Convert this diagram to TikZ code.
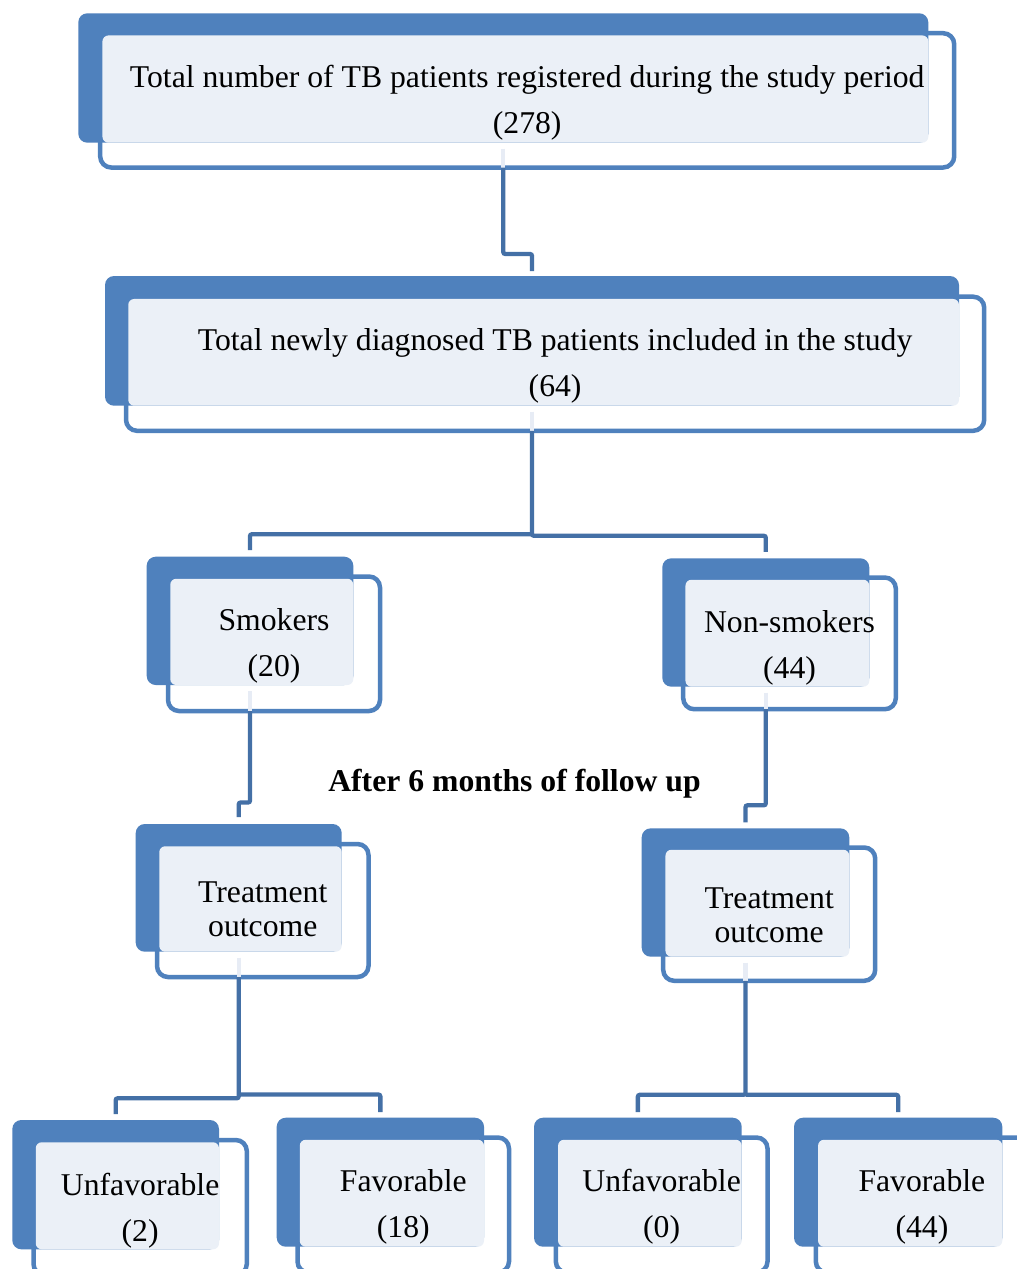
\documentclass[tikz,border=0pt]{standalone}
\usepackage{fontspec}
\setmainfont{Liberation Serif}
\usetikzlibrary{calc}
\definecolor{boxblue}{HTML}{4F81BD}
\definecolor{connblue}{HTML}{4470A6}
\definecolor{lightfill}{HTML}{EBF0F7}
\definecolor{stubcol}{HTML}{E7ECF5}
\newcommand\boxfont{\fontsize{31.7}{46}\selectfont}
\newcommand\tightfont{\fontsize{31.7}{34}\selectfont}
\tikzset{
  outl/.style={draw=boxblue, line width=4.5pt, fill=white, rounded corners=11pt, inner sep=0pt, outer sep=0pt},
  blu/.style={fill=boxblue, rounded corners=9pt, inner sep=0pt, outer sep=0pt},
  lite/.style={fill=lightfill, rounded corners=6pt},
  conn/.style={draw=connblue, line width=4.3pt, rounded corners=2pt},
  stub/.style={draw=stubcol, line width=4.3pt},
  txt/.style={inner sep=0pt, outer sep=0pt, anchor=base, font=\boxfont},
  ttxt/.style={inner sep=0pt, outer sep=0pt, anchor=base, font=\tightfont},
}
% #1 name, #2-#5 blue box x1 y1 x2 y2, #6-#9 outline box x1 y1 x2 y2
\newcommand\mkbox[9]{%
  \node[outl, minimum width={#8pt-#6pt}, minimum height={#9pt-#7pt}] (o#1) at ({(#6+#8)/2},{(#7+#9)/2}) {};
  \node[blu, minimum width={#4pt-#2pt}, minimum height={#5pt-#3pt}] (b#1) at ({(#2+#4)/2},{(#3+#5)/2}) {};
  \fill[lite] ([shift={(2.25pt,-2.25pt)}]o#1.north west) rectangle (b#1.south east);
}
\newcommand\twolines[2]{\begin{tabular}[t]{@{}c@{}}#1\\#2\end{tabular}}
\begin{document}
\begin{tikzpicture}[x=1pt,y=-1pt]
\useasboundingbox (0,0) rectangle (1017,1269);
\clip (0,0) rectangle (1017,1269);
\fill[white] (0,0) rectangle (1017,1269);

% boxes
\mkbox{1}{78.3}{13.3}{928.3}{142.7}{100.2}{33.2}{954.2}{167.5}
\mkbox{2}{105}{276}{959}{405.7}{126}{296.7}{984.2}{430.8}
\mkbox{3}{146.7}{556.7}{353.3}{685}{168}{576.5}{380}{711}
\mkbox{4}{662.3}{558.3}{869.3}{686.7}{683.2}{577.5}{895.8}{709.2}
\mkbox{5}{135.7}{824}{341.7}{951.7}{157}{844}{368.5}{977}
\mkbox{6}{641.7}{828.3}{849.3}{956.7}{663.2}{847.5}{875.2}{980.8}
\mkbox{7}{12.3}{1120}{219}{1249.3}{33.5}{1140}{246.8}{1275}
\mkbox{8}{276.7}{1117.7}{484}{1246.7}{297.5}{1137.5}{509}{1272.5}
\mkbox{9}{534}{1117.7}{741.7}{1246.7}{555.8}{1137.5}{767.5}{1272.5}
\mkbox{10}{794}{1117.7}{1002.3}{1246.7}{815.8}{1137.5}{1028}{1272.5}

% texts
\node[txt] (t1) at (o1.center |- 0,87.5) {\twolines{Total number of TB patients registered during the study period}{(278)}};
\node[txt] (t2) at (o2.center |- 0,350.7) {\twolines{Total newly diagnosed TB patients included in the study}{(64)}};
\node[txt] (t3) at (o3.center |- 0,630.7) {\twolines{Smokers}{(20)}};
\node[txt] (t4) at (o4.center |- 0,632.7) {\twolines{Non-smokers}{(44)}};
\node[ttxt] (t5) at (o5.center |- 0,902.7) {\twolines{Treatment}{outcome}};
\node[ttxt] (t6) at (o6.center |- 0,908.3) {\twolines{Treatment}{outcome}};
\node[txt] (t7) at (o7.center |- 0,1195) {\twolines{Unfavorable}{(2)}};
\node[txt] (t8) at (o8.center |- 0,1191.7) {\twolines{Favorable}{(18)}};
\node[txt] (t9) at (o9.center |- 0,1191.7) {\twolines{Unfavorable}{(0)}};
\node[txt] (t10) at (o10.center |- 0,1191.7) {\twolines{Favorable}{(44)}};
\node[inner sep=0pt, anchor=base, font={\fontsize{31.7}{38}\selectfont\bfseries}] (fu) at (514.5,791) {After 6 months of follow up};

% elbow levels
\coordinate (e1) at (0,254);
\coordinate (e2a) at (0,534.2);
\coordinate (e2b) at (0,535.8);
\coordinate (e3) at (0,802.5);
\coordinate (e4) at (0,805.3);
\coordinate (e5a) at (0,1098.3);
\coordinate (e5b) at (0,1094.5);
\coordinate (e6) at (0,1094.8);

% light stubs inside the outline boxes
\foreach \i in {1,...,6}{
  \draw[stub] ([yshift=-6pt]b\i.south) -- (b\i.south |- o\i.south);
}

% connectors
\draw[conn] (b1.south |- o1.south) -- (b1.south |- e1) -- (b2.north |- e1) -- ([yshift=5pt]b2.north);
\draw[conn] (b2.south |- o2.south) -- (b2.south |- e2b) -- (b4.north |- e2b) -- ([yshift=6.5pt]b4.north);
\draw[conn] (b2.south |- e2a) -- (b3.north |- e2a) -- ([yshift=6.5pt]b3.north);
\draw[conn] (b3.south |- o3.south) -- (b3.south |- e3) -- (b5.north |- e3) -- ([yshift=7pt]b5.north);
\draw[conn] (b4.south |- o4.south) -- (b4.south |- e4) -- (b6.north |- e4) -- ([yshift=6pt]b6.north);
\draw[conn] (b5.south |- o5.south) -- (b5.south |- e5a) -- (b7.north |- e5a) -- ([yshift=6pt]b7.north);
\draw[conn] (b5.south |- e5b) -- (b8.north |- e5b) -- ([yshift=5.5pt]b8.north);
\draw[conn] (b6.south |- o6.south) -- (b6.south |- e6) -- (b9.north |- e6) -- ([yshift=5.5pt]b9.north);
\draw[conn] (b6.south |- e6) -- (b10.north |- e6) -- ([yshift=5.5pt]b10.north);
\end{tikzpicture}
\end{document}
